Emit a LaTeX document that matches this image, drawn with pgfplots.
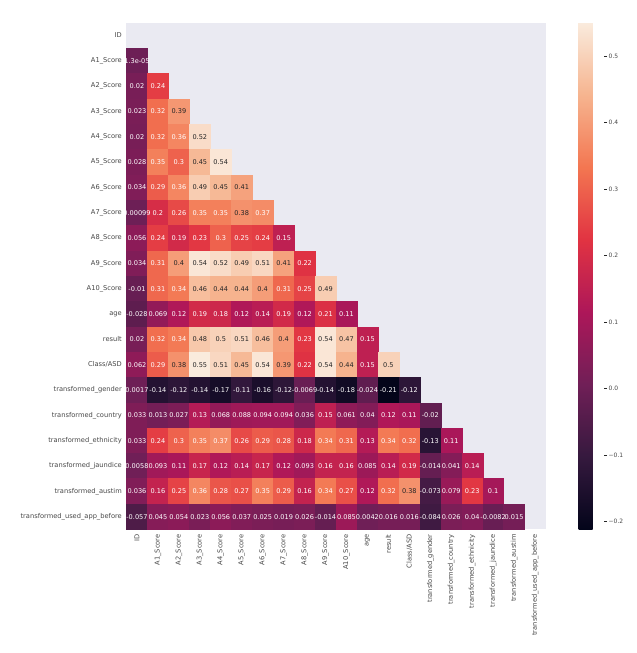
\documentclass[border=0pt]{standalone}
\usepackage{pgfplots}
\pgfplotsset{compat=1.18}
\usepackage{pgfplotstable}
\usepackage{fontspec}
\setmainfont{DejaVu Sans}
\definecolor{dtext}{HTML}{262626}
\definecolor{bgc}{HTML}{EAEAF2}
\pgfdeclareplotmark{cell}{\pgfpathrectanglecorners{\pgfqpoint{-10.475bp}{-12.665bp}}{\pgfqpoint{10.475bp}{12.665bp}}\pgfusepathqfillstroke}
\pgfplotstableread{
x y v lab
0 1 0.000013 1.3e-05
0 2 0.02 0.02
1 2 0.24 0.24
0 3 0.023 0.023
1 3 0.32 0.32
2 3 0.39 0.39
0 4 0.02 0.02
1 4 0.32 0.32
2 4 0.36 0.36
3 4 0.52 0.52
0 5 0.028 0.028
1 5 0.35 0.35
2 5 0.3 0.3
3 5 0.45 0.45
4 5 0.54 0.54
0 6 0.034 0.034
1 6 0.29 0.29
2 6 0.36 0.36
3 6 0.49 0.49
4 6 0.45 0.45
5 6 0.41 0.41
0 7 0.00099 0.00099
1 7 0.2 0.2
2 7 0.26 0.26
3 7 0.35 0.35
4 7 0.35 0.35
5 7 0.38 0.38
6 7 0.37 0.37
0 8 0.056 0.056
1 8 0.24 0.24
2 8 0.19 0.19
3 8 0.23 0.23
4 8 0.3 0.3
5 8 0.25 0.25
6 8 0.24 0.24
7 8 0.15 0.15
0 9 0.034 0.034
1 9 0.31 0.31
2 9 0.4 0.4
3 9 0.54 0.54
4 9 0.52 0.52
5 9 0.49 0.49
6 9 0.51 0.51
7 9 0.41 0.41
8 9 0.22 0.22
0 10 -0.01 -0.01
1 10 0.31 0.31
2 10 0.34 0.34
3 10 0.46 0.46
4 10 0.44 0.44
5 10 0.44 0.44
6 10 0.4 0.4
7 10 0.31 0.31
8 10 0.25 0.25
9 10 0.49 0.49
0 11 -0.028 -0.028
1 11 0.069 0.069
2 11 0.12 0.12
3 11 0.19 0.19
4 11 0.18 0.18
5 11 0.12 0.12
6 11 0.14 0.14
7 11 0.19 0.19
8 11 0.12 0.12
9 11 0.21 0.21
10 11 0.11 0.11
0 12 0.02 0.02
1 12 0.32 0.32
2 12 0.34 0.34
3 12 0.48 0.48
4 12 0.5 0.5
5 12 0.51 0.51
6 12 0.46 0.46
7 12 0.4 0.4
8 12 0.23 0.23
9 12 0.54 0.54
10 12 0.47 0.47
11 12 0.15 0.15
0 13 0.062 0.062
1 13 0.29 0.29
2 13 0.38 0.38
3 13 0.55 0.55
4 13 0.51 0.51
5 13 0.45 0.45
6 13 0.54 0.54
7 13 0.39 0.39
8 13 0.22 0.22
9 13 0.54 0.54
10 13 0.44 0.44
11 13 0.15 0.15
12 13 0.5 0.5
0 14 0.0017 0.0017
1 14 -0.14 -0.14
2 14 -0.12 -0.12
3 14 -0.14 -0.14
4 14 -0.17 -0.17
5 14 -0.11 -0.11
6 14 -0.16 -0.16
7 14 -0.12 -0.12
8 14 -0.0069 -0.0069
9 14 -0.14 -0.14
10 14 -0.18 -0.18
11 14 -0.024 -0.024
12 14 -0.21 -0.21
13 14 -0.12 -0.12
0 15 0.033 0.033
1 15 0.013 0.013
2 15 0.027 0.027
3 15 0.13 0.13
4 15 0.068 0.068
5 15 0.088 0.088
6 15 0.094 0.094
7 15 0.094 0.094
8 15 0.036 0.036
9 15 0.15 0.15
10 15 0.061 0.061
11 15 0.04 0.04
12 15 0.12 0.12
13 15 0.11 0.11
14 15 -0.02 -0.02
0 16 0.033 0.033
1 16 0.24 0.24
2 16 0.3 0.3
3 16 0.35 0.35
4 16 0.37 0.37
5 16 0.26 0.26
6 16 0.29 0.29
7 16 0.28 0.28
8 16 0.18 0.18
9 16 0.34 0.34
10 16 0.31 0.31
11 16 0.13 0.13
12 16 0.34 0.34
13 16 0.32 0.32
14 16 -0.13 -0.13
15 16 0.11 0.11
0 17 0.0058 0.0058
1 17 0.093 0.093
2 17 0.11 0.11
3 17 0.17 0.17
4 17 0.12 0.12
5 17 0.14 0.14
6 17 0.17 0.17
7 17 0.12 0.12
8 17 0.093 0.093
9 17 0.16 0.16
10 17 0.16 0.16
11 17 0.085 0.085
12 17 0.14 0.14
13 17 0.19 0.19
14 17 -0.014 -0.014
15 17 0.041 0.041
16 17 0.14 0.14
0 18 0.036 0.036
1 18 0.16 0.16
2 18 0.25 0.25
3 18 0.36 0.36
4 18 0.28 0.28
5 18 0.27 0.27
6 18 0.35 0.35
7 18 0.29 0.29
8 18 0.16 0.16
9 18 0.34 0.34
10 18 0.27 0.27
11 18 0.12 0.12
12 18 0.32 0.32
13 18 0.38 0.38
14 18 -0.073 -0.073
15 18 0.079 0.079
16 18 0.23 0.23
17 18 0.1 0.1
0 19 -0.057 -0.057
1 19 0.045 0.045
2 19 0.054 0.054
3 19 0.023 0.023
4 19 0.056 0.056
5 19 0.037 0.037
6 19 0.025 0.025
7 19 0.019 0.019
8 19 0.026 0.026
9 19 -0.014 -0.014
10 19 0.085 0.085
11 19 0.0042 0.0042
12 19 0.016 0.016
13 19 0.016 0.016
14 19 -0.084 -0.084
15 19 0.026 0.026
16 19 0.04 0.04
17 19 -0.0082 -0.0082
18 19 0.015 0.015
}\corr
\begin{document}
\begin{tikzpicture}
\begin{axis}[
  name=hm,
  scale only axis, width=419bp, height=506.6bp,
  xmin=-0.5, xmax=19.5, ymin=-0.5, ymax=19.5,
  y dir=reverse,
  axis background/.style={fill=bgc},
  axis line style={draw=none},
  tick style={draw=none},
  xtick={0,...,19}, ytick={0,...,19},
  xticklabels={ID,A1\_Score,A2\_Score,A3\_Score,A4\_Score,A5\_Score,A6\_Score,A7\_Score,A8\_Score,A9\_Score,A10\_Score,age,result,Class/ASD,transformed\_gender,transformed\_country,transformed\_ethnicity,transformed\_jaundice,transformed\_austim,transformed\_used\_app\_before},
  yticklabels={ID,A1\_Score,A2\_Score,A3\_Score,A4\_Score,A5\_Score,A6\_Score,A7\_Score,A8\_Score,A9\_Score,A10\_Score,age,result,Class/ASD,transformed\_gender,transformed\_country,transformed\_ethnicity,transformed\_jaundice,transformed\_austim,transformed\_used\_app\_before},
  xticklabel style={yshift=-4bp, rotate=90, anchor=east, font=\fontsize{6.7}{7}\selectfont, text=dtext!85, inner sep=1pt},
  yticklabel style={xshift=-3.5bp, font=\fontsize{6.7}{7}\selectfont, text=dtext!85, inner sep=1pt},
  xtick pos=bottom, ytick pos=left,
  major tick length=3bp,
  colormap={rocket}{rgb255(0)=(3,5,26) rgb255(1)=(53,25,62) rgb255(2)=(112,31,87) rgb255(3)=(173,23,89) rgb255(4)=(225,51,66) rgb255(5)=(243,118,81) rgb255(6)=(246,180,143) rgb255(7)=(250,235,221)},
  point meta min=-0.2114, point meta max=0.55,
  colorbar,
  colorbar style={
    at={(parent axis.north east)}, anchor=north west, xshift=24.5bp,
    scale only axis, width=25bp, height=506.6bp,
    axis line style={draw=none},
    ytick={-0.2,-0.1,0,0.1,0.2,0.3,0.4,0.5},
    yticklabels={−0.2,−0.1,0.0,0.1,0.2,0.3,0.4,0.5},
    yticklabel style={font=\fontsize{6}{7}\selectfont, text=dtext!85, inner sep=1.5pt},
    ytick pos=right, tick align=outside,
    major tick length=3.5bp,
    ytick style={draw=dtext, line width=0.5pt},
  },
]
\addplot[scatter, only marks, mark=cell, line width=0.3pt,
  scatter/use mapped color={draw=mapped color, fill=mapped color},
  point meta=\thisrow{v},
] table[x=x, y=y] {\corr};
\addplot[only marks, mark=none,
  restrict expr to domain={\thisrow{v}}{0.375:1},
  point meta=explicit symbolic,
  nodes near coords,
  nodes near coords align=center,
  every node near coord/.append style={font=\fontsize{6.6}{7}\selectfont, inner sep=0pt, anchor=center, text=dtext},
] table[x=x, y=y, meta=lab] {\corr};
\addplot[only marks, mark=none,
  restrict expr to domain={\thisrow{v}}{-1:0.375},
  point meta=explicit symbolic,
  nodes near coords,
  nodes near coords align=center,
  every node near coord/.append style={font=\fontsize{6.6}{7}\selectfont, inner sep=0pt, anchor=center, text=white},
] table[x=x, y=y, meta=lab] {\corr};
\end{axis}
\path ([shift={(-126.5bp,-123.7bp)}]hm.south west) rectangle ([shift={(91.5bp,22.7bp)}]hm.north east);
\end{tikzpicture}
\end{document}
